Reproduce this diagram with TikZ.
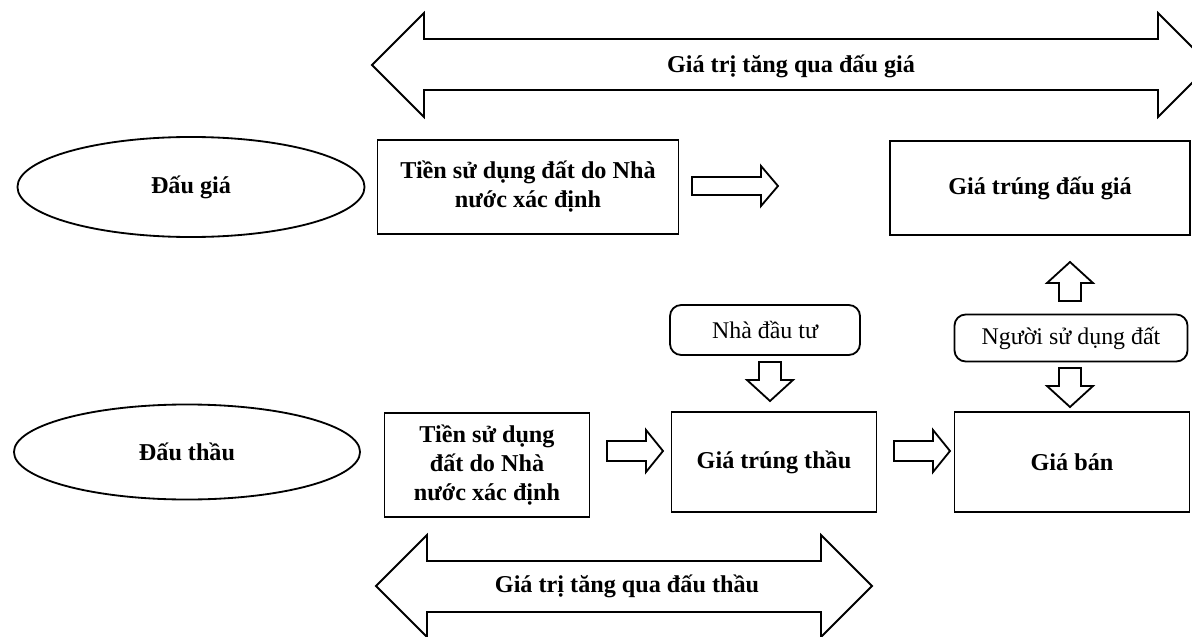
\documentclass[tikz,border=0pt]{standalone}
\usepackage{fontspec}
\setmainfont{Liberation Serif}
\usetikzlibrary{shapes.geometric}

\tikzset{
  txt/.style={font=\fontsize{17}{20.6}\selectfont},
  bold/.style={font=\bfseries\fontsize{17.2}{20.6}\selectfont},
  box/.style={draw, rectangle, bold, align=center, inner sep=0pt},
  rbox/.style={draw, rectangle, rounded corners=8pt, txt, align=center, inner sep=0pt},
  oval/.style={draw, ellipse, bold, inner sep=0pt},
  blockarrow/.style={draw, fill=white}
}

\begin{document}
\begin{tikzpicture}[x=0.025cm, y=-0.025cm, line width=1.3pt]

		\clip (0,0) rectangle (1192,637);

		% Draw Shape
		\draw[blockarrow] (372,65) -- (424,13) -- (424,39) -- (1158,39) -- (1158,13) -- (1210,65)
		  -- (1158,117) -- (1158,90) -- (424,90) -- (424,117) -- cycle;
		\draw[blockarrow] (376,586) -- (427,535) -- (427,561) -- (821,561) -- (821,535) -- (872,586)
		  -- (821,637) -- (821,612) -- (427,612) -- (427,637) -- cycle;

		\draw[blockarrow] (692,177) -- (761,177) -- (761,166) -- (778,186) -- (761,206) -- (761,195) -- (692,195) -- cycle;
		\draw[blockarrow] (607,441) -- (646,441) -- (646,430) -- (663,451) -- (646,472) -- (646,461) -- (607,461) -- cycle;
		\draw[blockarrow] (894,441) -- (933,441) -- (933,430) -- (950,451) -- (933,472) -- (933,461) -- (894,461) -- cycle;
		\draw[blockarrow] (759,362) -- (781,362) -- (781,380) -- (793,380) -- (770,401) -- (747,380) -- (759,380) -- cycle;
		\draw[blockarrow] (1059,368) -- (1081,368) -- (1081,386) -- (1093,386) -- (1070,407) -- (1047,386) -- (1059,386) -- cycle;
		\draw[blockarrow] (1059,301) -- (1081,301) -- (1081,283) -- (1093,283) -- (1070,262) -- (1047,283) -- (1059,283) -- cycle;

		% Labels
		\node[bold] (tangdaugia) at (791,66) {Giá trị tăng qua đấu giá};
		\node[bold] (tangdauthau) at (627,586) {Giá trị tăng qua đấu thầu};

		\node[oval, minimum width=8.675cm, minimum height=2.5cm] (daugia) at (191,187) {Đấu giá};
		\node[box, minimum width=7.525cm, minimum height=2.35cm] (tiennn) at (528,187) {Tiền sử dụng đất do Nhà\\nước xác định};
		\node[box, minimum width=7.5cm, minimum height=2.35cm] (trungdaugia) at (1040,188) {Giá trúng đấu giá};

		\node[rbox, minimum width=4.75cm, minimum height=1.25cm] (nhadautu) at (765,330) {Nhà đầu tư};
		\node[rbox, minimum width=5.825cm, minimum height=1.175cm] (nguoisd) at (1071,338) {Người sử dụng đất};

		\node[oval, minimum width=8.65cm, minimum height=2.375cm] (dauthau) at (187,452) {Đấu thầu};
		\node[box, minimum width=5.125cm, minimum height=2.6cm] (tienbot) at (487,465) {Tiền sử dụng\\đất do Nhà\\nước xác định};
		\node[box, minimum width=5.125cm, minimum height=2.5cm] (trungthau) at (774,462) {Giá trúng thầu};
		\node[box, minimum width=5.875cm, minimum height=2.5cm] (giaban) at (1072,462) {Giá bán};

\end{tikzpicture}
\end{document}
